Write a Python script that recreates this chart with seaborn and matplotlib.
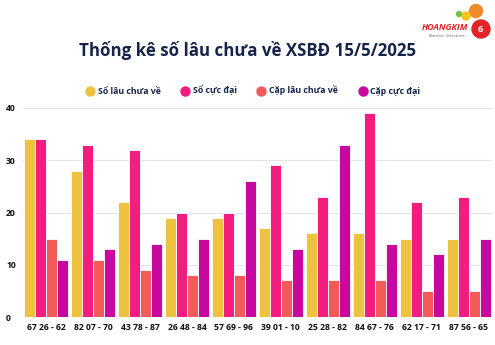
import matplotlib
matplotlib.use("Agg")
import matplotlib.pyplot as plt
import matplotlib.patches as mpatches
import matplotlib.lines as mlines
import seaborn as sns
import pandas as pd

categories = ["67 26 - 62", "82 07 - 70", "43 78 - 87", "26 48 - 84", "57 69 - 96",
              "39 01 - 10", "25 28 - 82", "84 67 - 76", "62 17 - 71", "87 56 - 65"]
so_lau = [34, 28, 22, 19, 19, 17, 16, 16, 15, 15]
so_cuc_dai = [34, 33, 32, 20, 20, 29, 23, 39, 22, 23]
cap_lau = [15, 11, 9, 8, 8, 7, 7, 7, 5, 5]
cap_cuc_dai = [11, 13, 14, 15, 26, 13, 33, 14, 12, 15]
series_names = ["Số lâu chưa về", "Số cực đại", "Cặp lâu chưa về", "Cặp cực đại"]
colors = ["#EEC23E", "#F31C7F", "#F35B5B", "#C8079F"]

rows = []
for name, vals in zip(series_names, [so_lau, so_cuc_dai, cap_lau, cap_cuc_dai]):
    for c, v in zip(categories, vals):
        rows.append({"cat": c, "series": name, "value": v})
df = pd.DataFrame(rows)

sns.set_theme(style="white")
plt.rcParams['font.family'] = ['Open Sans', 'DejaVu Sans']

fig = plt.figure(figsize=(4.95, 3.45), dpi=100)
ax = fig.add_axes([0.046, 0.081, 0.948, 0.606])
sns.barplot(data=df, x="cat", y="value", hue="series", palette=colors,
            width=0.94, ax=ax, legend=False, edgecolor="white", linewidth=0.6,
            saturation=1)
ax.set_ylim(0, 40)
ax.set_xlim(-0.5, len(categories) - 0.5)
ax.set_yticks([0, 10, 20, 30, 40])
ax.yaxis.grid(True, color="#e4e4e8", linewidth=0.8)
ax.set_axisbelow(True)
for s in ax.spines.values():
    s.set_visible(False)
ax.set_xlabel("")
ax.set_ylabel("")
ax.tick_params(axis="both", length=0, pad=4)
for lab in ax.get_xticklabels():
    lab.set_fontsize(6.2)
    lab.set_fontweight("bold")
    lab.set_color("#111111")
for lab in ax.get_yticklabels():
    lab.set_fontsize(6.2)
    lab.set_fontweight("bold")
    lab.set_color("#111111")
    lab.set_horizontalalignment("left")
ax.tick_params(axis="y", pad=12)

# Title
fig.text(0.5, 0.855, "Thống kê số lâu chưa về XSBĐ 15/5/2025", ha="center", va="center",
         fontsize=12.2, fontweight="bold", color="#16244a")

# Legend
handles = [mlines.Line2D([], [], marker="o", linestyle="", markersize=6.5,
                         markerfacecolor=c, markeredgecolor=c) for c in colors]
leg = fig.legend(handles, series_names, loc="center", bbox_to_anchor=(0.51, 0.737),
                 ncol=4, frameon=False, fontsize=6.3, handletextpad=0.3,
                 columnspacing=2.2, handlelength=1.2)
for t in leg.get_texts():
    t.set_fontweight("bold")
    t.set_color("#16244a")

# Logo approximation
W, H = 495.0, 345.0
def circ(cx, cy, r, color):
    fig.patches.append(mpatches.Ellipse((cx / W, 1 - cy / H), 2 * r / W, 2 * r / H,
                                        transform=fig.transFigure, color=color, figure=fig))
circ(476, 11, 6.5, "#f08a2a")
circ(466, 16, 4, "#f5c518")
circ(459, 14, 2.5, "#7cc242")
circ(481, 29, 9, "#e0242a")
fig.text(445 / W, 1 - 28 / H, "HOANGKIM", ha="center", va="center", fontsize=6.3,
         fontweight="bold", fontstyle="italic", color="#e0242a")
fig.text(447 / W, 1 - 36 / H, "Nhanh hơn · Chính xác hơn", ha="center", va="center",
         fontsize=2.0, color="#555555")
fig.text(480 / W, 1 - 29 / H, "6", ha="center", va="center", fontsize=6.5,
         fontweight="bold", color="white")

fig.savefig("out.png", dpi=100, facecolor="white")
